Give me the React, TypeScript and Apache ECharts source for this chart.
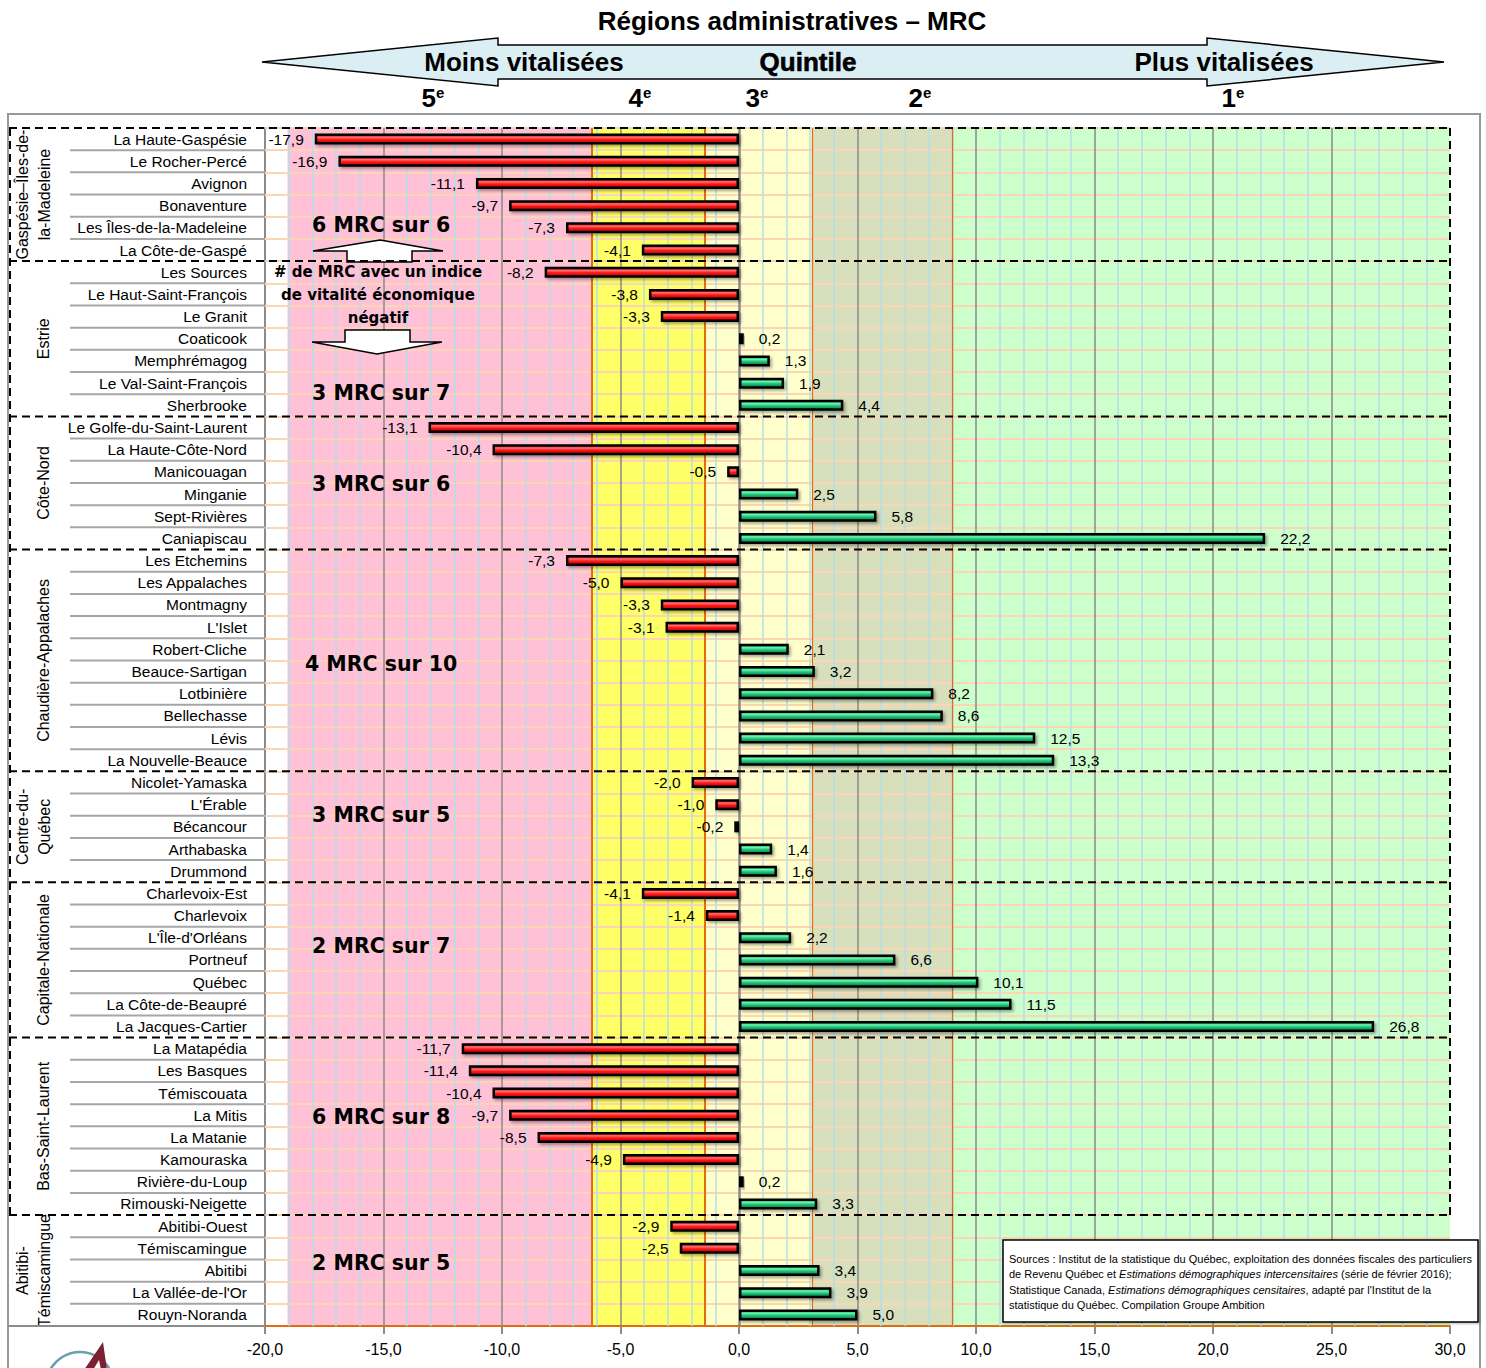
import React, { useEffect, useRef } from 'react';
import * as echarts from 'echarts';

// ---------- DATA ----------
const regionLabels: string[][] = [
  ['Gaspésie–Îles-de-', 'la-Madeleine'],
  ['Estrie'],
  ['Côte-Nord'],
  ['Chaudière-Appalaches'],
  ['Centre-du-', 'Québec'],
  ['Capitale-Nationale'],
  ['Bas-Saint-Laurent'],
  ['Abitibi-', 'Témiscamingue'],
];
const regionSizes = [6, 7, 6, 10, 5, 7, 8, 5];

const mrcNames = [
  'La Haute-Gaspésie', 'Le Rocher-Percé', 'Avignon', 'Bonaventure', 'Les Îles-de-la-Madeleine', 'La Côte-de-Gaspé',
  'Les Sources', 'Le Haut-Saint-François', 'Le Granit', 'Coaticook', 'Memphrémagog', 'Le Val-Saint-François', 'Sherbrooke',
  'Le Golfe-du-Saint-Laurent', 'La Haute-Côte-Nord', 'Manicouagan', 'Minganie', 'Sept-Rivières', 'Caniapiscau',
  'Les Etchemins', 'Les Appalaches', 'Montmagny', "L'Islet", 'Robert-Cliche', 'Beauce-Sartigan', 'Lotbinière', 'Bellechasse', 'Lévis', 'La Nouvelle-Beauce',
  'Nicolet-Yamaska', "L'Érable", 'Bécancour', 'Arthabaska', 'Drummond',
  'Charlevoix-Est', 'Charlevoix', "L'Île-d'Orléans", 'Portneuf', 'Québec', 'La Côte-de-Beaupré', 'La Jacques-Cartier',
  'La Matapédia', 'Les Basques', 'Témiscouata', 'La Mitis', 'La Matanie', 'Kamouraska', 'Rivière-du-Loup', 'Rimouski-Neigette',
  'Abitibi-Ouest', 'Témiscamingue', 'Abitibi', "La Vallée-de-l'Or", 'Rouyn-Noranda',
];
const values = [
  -17.9, -16.9, -11.1, -9.7, -7.3, -4.1,
  -8.2, -3.8, -3.3, 0.2, 1.3, 1.9, 4.4,
  -13.1, -10.4, -0.5, 2.5, 5.8, 22.2,
  -7.3, -5.0, -3.3, -3.1, 2.1, 3.2, 8.2, 8.6, 12.5, 13.3,
  -2.0, -1.0, -0.2, 1.4, 1.6,
  -4.1, -1.4, 2.2, 6.6, 10.1, 11.5, 26.8,
  -11.7, -11.4, -10.4, -9.7, -8.5, -4.9, 0.2, 3.3,
  -2.9, -2.5, 3.4, 3.9, 5.0,
];

// quintile thresholds (x values)
const quintileBounds = [-19.05, -6.2, -1.46, 3.07, 8.99, 30];
const quintileNames = ['5', '4', '3', '2', '1'];

const xMin = -20;
const xMax = 30;
const xInterval = 5;

// ---------- STYLE ----------
const NARROW = "'Liberation Sans', Arial, sans-serif";
const ARIAL = "'Liberation Sans', Arial, sans-serif";
const HEAVY = "'DejaVu Sans', 'Liberation Sans', sans-serif";
const bandColors = ['#ffc1d5', '#ffff66', '#ffffcc', '#d8dfbc', '#ccffcc'];
const quintileLabelX = [433, 640, 757, 920, 1233];
const annotOffsets = [3.85, 5.45, 2.55, 4.65, 1.45, 2.35, 3.1, 1.65];

const fmt = (v: number) => v.toFixed(1).replace('.', ',');

export default function App() {
  const ref = useRef<HTMLDivElement>(null);

  useEffect(() => {
    const chart = echarts.init(ref.current!, null, { renderer: 'svg' });
    const nRows = mrcNames.length;

    const redGrad = new echarts.graphic.LinearGradient(0, 0, 0, 1, [
      { offset: 0, color: '#c00000' },
      { offset: 0.3, color: '#ff7070' },
      { offset: 0.55, color: '#ff1a1a' },
      { offset: 1, color: '#b00000' },
    ]);
    const greenGrad = new echarts.graphic.LinearGradient(0, 0, 0, 1, [
      { offset: 0, color: '#0a8a4a' },
      { offset: 0.3, color: '#6af5b0' },
      { offset: 0.55, color: '#22c77a' },
      { offset: 1, color: '#087040' },
    ]);

    const barData = values.map((v) => ({
      value: v,
      itemStyle: {
        color: v < 0 ? redGrad : greenGrad,
        borderColor: '#000',
        borderWidth: 2.5,
        shadowColor: 'rgba(0,0,0,0.35)',
        shadowBlur: 3,
        shadowOffsetX: 2,
        shadowOffsetY: 2,
      },
      label: {
        show: true,
        position: v < 0 ? 'left' : 'right',
        distance: v < 0 ? 11 : 15,
        formatter: fmt(v),
      },
    }));

    const bandAreas = bandColors.map((c, i) => [
      { xAxis: quintileBounds[i], itemStyle: { color: c } },
      { xAxis: quintileBounds[i + 1] },
    ]);

    const lines: any[] = [];
    for (let k = 0; k <= nRows; k++) {
      lines.push({ yAxis: k, lineStyle: { color: k === nRows ? '#e46c0a' : '#fcd5b4', width: 2, type: 'solid' } });
    }
    for (let i = Math.ceil(quintileBounds[0]); i < xMax; i++) {
      if (i % xInterval !== 0) lines.push({ xAxis: i, lineStyle: { color: '#b6dde8', width: 1.5, type: 'solid' } });
    }
    for (let i = xMin + xInterval; i < xMax; i += xInterval) {
      lines.push({ xAxis: i, lineStyle: { color: '#8a8a8a', width: i === 0 ? 2.5 : 1.5, type: 'solid' } });
    }
    for (let i = 1; i < quintileBounds.length - 1; i++) {
      lines.push({ xAxis: quintileBounds[i], lineStyle: { color: '#e46c0a', width: i <= 2 ? 2 : 1.2, type: 'solid' } });
    }

    const option: any = {
      animation: false,
      backgroundColor: '#fff',
      grid: { left: 265, right: 36, top: 128, bottom: 42, containLabel: false },
      xAxis: [{
        type: 'value', min: xMin, max: xMax, interval: xInterval,
        axisLine: { show: true, onZero: false, lineStyle: { color: '#8c8c8c', width: 2 } },
        axisTick: { show: true, length: 8, lineStyle: { color: '#8c8c8c', width: 2 } },
        splitLine: { show: false },
        axisLabel: { formatter: (v: number) => fmt(v), fontFamily: NARROW, fontSize: 16, color: '#000', margin: 15 },
      }],
      yAxis: [
        {
          type: 'category', data: mrcNames, inverse: true,
          axisLine: { show: true, onZero: false, lineStyle: { color: '#8c8c8c', width: 2 } },
          axisTick: { show: false },
          splitLine: { show: false },
          axisLabel: { interval: 0, fontFamily: NARROW, fontSize: 15.5, color: '#000', margin: 18 },
        },
        { type: 'value', min: 0, max: nRows, inverse: true, show: false },
      ],
      series: [
        {
          type: 'line', xAxisIndex: 0, yAxisIndex: 1, data: [], silent: true, z: 1,
          markArea: { silent: true, z: 1, data: bandAreas },
          markLine: { silent: true, z: 2, symbol: ['none', 'none'], label: { show: false }, data: lines },
        },
        {
          type: 'bar', xAxisIndex: 0, yAxisIndex: 0, data: barData, barWidth: 11, z: 10,
          label: { fontFamily: NARROW, fontSize: 15.5, color: '#000' },
        },
      ],
    };
    chart.setOption(option);

    const px = (x: number) => chart.convertToPixel({ xAxisIndex: 0 }, x) as number;
    const py = (k: number) => chart.convertToPixel({ yAxisIndex: 1 }, k) as number;

    const Z = 20;
    const g: any[] = [];
    const xL = px(xMin);
    const xR = px(xMax);
    const yTop = py(0);
    const yBot = py(nRows);

    // outer frame
    g.push({ type: 'rect', z: Z, shape: { x: 8, y: 114, width: 1472, height: 1300 }, style: { fill: 'none', stroke: '#999', lineWidth: 2 } });

    // title & arrow
    g.push({ type: 'text', z: Z, x: 792, y: 21, style: { text: 'Régions administratives – MRC', font: `bold 26px ${ARIAL}`, fill: '#000', align: 'center', verticalAlign: 'middle' } });
    g.push({
      type: 'polygon', z: Z,
      shape: { points: [[262, 62], [498, 38], [498, 45], [1207, 45], [1207, 38], [1444, 62], [1207, 86], [1207, 79], [498, 79], [498, 86]] },
      style: { fill: '#dbeef4', stroke: '#000', lineWidth: 1.5 },
    });
    g.push({ type: 'text', z: Z, x: 524, y: 62, style: { text: 'Moins vitalisées', font: `bold 26px ${ARIAL}`, fill: '#000', align: 'center', verticalAlign: 'middle' } });
    g.push({ type: 'text', z: Z, x: 808, y: 62, style: { text: 'Quintile', font: `bold 26px ${ARIAL}`, fill: '#000', stroke: '#000', lineWidth: 0.6, align: 'center', verticalAlign: 'middle' } });
    g.push({ type: 'text', z: Z, x: 1224, y: 62, style: { text: 'Plus vitalisées', font: `bold 26px ${ARIAL}`, fill: '#000', align: 'center', verticalAlign: 'middle' } });
    quintileNames.forEach((q, i) => {
      g.push({
        type: 'text', z: Z, x: quintileLabelX[i], y: 98,
        style: {
          text: `{b|${q}}{s|e}`, align: 'center', verticalAlign: 'middle',
          rich: {
            b: { font: `bold 26px ${ARIAL}`, fill: '#000', verticalAlign: 'bottom' },
            s: { font: `bold 15px ${ARIAL}`, fill: '#000', verticalAlign: 'top', padding: [0, 0, 10, 0] },
          },
        },
      });
    });

    // label-area row separators, region labels, annotations
    let start = 0;
    regionSizes.forEach((sz, gi) => {
      for (let r = 1; r < sz; r++) {
        const y = py(start + r);
        g.push({ type: 'line', z: Z, shape: { x1: 70, y1: y, x2: xL, y2: y }, style: { stroke: '#a6a6a6', lineWidth: 2 } });
      }
      const lbl = regionLabels[gi];
      const cy = (py(start) + py(start + sz)) / 2;
      g.push({
        type: 'text', z: Z, x: lbl.length > 1 ? 33 : 43, y: cy, rotation: Math.PI / 2,
        style: { text: lbl.join('\n'), font: `16px ${NARROW}`, lineHeight: 22, fill: '#000', align: 'center', verticalAlign: 'middle' },
      });
      const negs = values.slice(start, start + sz).filter((v) => v < 0).length;
      g.push({
        type: 'text', z: Z, x: px(-15.1), y: py(start + annotOffsets[gi] + 0.5),
        style: { text: `${negs} MRC sur ${sz}`, font: `bold 20.5px ${HEAVY}`, fill: '#000', align: 'center', verticalAlign: 'middle' },
      });
      start += sz;
    });
    g.push({ type: 'line', z: Z, shape: { x1: 8, y1: yBot, x2: xL, y2: yBot }, style: { stroke: '#8c8c8c', lineWidth: 2 } });

    // dashed group boxes
    const dash = { stroke: '#000', lineWidth: 2, lineDash: [8, 5] };
    const lastDashIdx = nRows - regionSizes[regionSizes.length - 1];
    g.push({ type: 'line', z: Z + 1, shape: { x1: 9, y1: yTop, x2: xR, y2: yTop }, style: dash });
    start = 0;
    regionSizes.forEach((sz) => {
      start += sz;
      if (start < nRows) {
        const y = py(start);
        g.push({ type: 'line', z: Z + 1, shape: { x1: 9, y1: y, x2: xR, y2: y }, style: dash });
      }
    });
    g.push({ type: 'line', z: Z + 1, shape: { x1: 10, y1: yTop, x2: 10, y2: py(lastDashIdx) }, style: dash });
    g.push({ type: 'line', z: Z + 1, shape: { x1: xR, y1: yTop, x2: xR, y2: py(lastDashIdx) }, style: dash });

    // explanatory text & arrows
    g.push({
      type: 'text', z: Z, x: 378, y: 295,
      style: { text: '# de MRC avec un indice\nde vitalité économique\nnégatif', font: `bold 15px ${HEAVY}`, lineHeight: 23, fill: '#000', align: 'center', verticalAlign: 'middle' },
    });
    g.push({
      type: 'polygon', z: Z,
      shape: { points: [[380, 240], [443, 251], [412, 251], [412, 262], [347, 262], [347, 251], [313, 251]] },
      style: { fill: '#fff', stroke: '#000', lineWidth: 1.5 },
    });
    g.push({
      type: 'polygon', z: Z,
      shape: { points: [[345, 330], [410, 330], [410, 342], [442, 342], [377, 354], [312, 342], [345, 342]] },
      style: { fill: '#fff', stroke: '#000', lineWidth: 1.5 },
    });

    // sources box
    g.push({
      type: 'rect', z: Z + 2, shape: { x: 1003, y: 1240, width: 475, height: 82 },
      style: { fill: '#fff', stroke: '#000', lineWidth: 1.5, shadowColor: 'rgba(0,0,0,0.3)', shadowBlur: 2, shadowOffsetX: 1, shadowOffsetY: 1 },
    });
    g.push({
      type: 'text', z: Z + 3, x: 1009, y: 1251,
      style: {
        text: 'Sources : Institut de la statistique du Québec, exploitation des données fiscales des particuliers\n' +
          'de Revenu Québec et {i|Estimations démographiques intercensitaires} (série de février 2016);\n' +
          'Statistique Canada, {i|Estimations démographiques censitaires}, adapté par l\'Institut de la\n' +
          'statistique du Québec. Compilation Groupe Ambition',
        font: `11px ${ARIAL}`, lineHeight: 15.5, fill: '#000', align: 'left', verticalAlign: 'top',
        rich: { i: { font: `italic 11px ${ARIAL}`, fill: '#000', lineHeight: 15.5 } },
      },
    });

    // logo (partial)
    g.push({ type: 'arc', z: Z, shape: { cx: 80, cy: 1386, r: 34, startAngle: Math.PI + 0.45, endAngle: 2 * Math.PI - 0.4, clockwise: true }, style: { stroke: '#6c9db0', lineWidth: 2.5, fill: 'none' } });
    g.push({ type: 'polygon', z: Z + 1, shape: { points: [[103, 1342], [84, 1370], [93, 1370], [99, 1360], [101, 1370], [107, 1370]] }, style: { fill: '#7a2233' } });

    chart.setOption({ graphic: g });

    return () => chart.dispose();
  }, []);

  return <div ref={ref} style={{ position: 'absolute', left: 0, top: 0, width: 1486, height: 1368, background: '#fff' }} />;
}
